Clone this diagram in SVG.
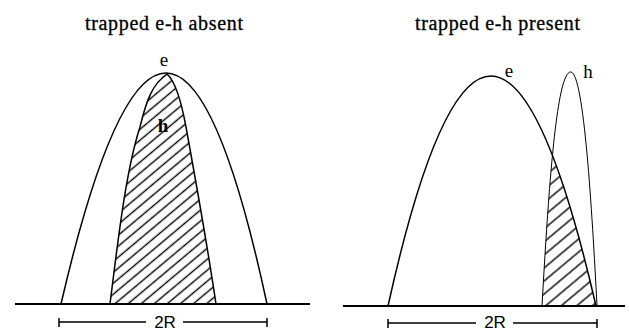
<svg xmlns="http://www.w3.org/2000/svg" width="629" height="331" viewBox="0 0 629 331">
<style>
.title{font-family:"Liberation Serif","Times New Roman",serif;font-size:20px;fill:#000;stroke:#000;stroke-width:0.3}
.lbl{font-family:"Liberation Serif","Times New Roman",serif;font-size:19px;fill:#000}
.dim{font-family:"Liberation Sans",Arial,sans-serif;font-size:17px;fill:#000}
.curve{fill:none;stroke:#000;stroke-width:1.5}
.thin{fill:none;stroke:#000;stroke-width:1}
.base{fill:none;stroke:#000;stroke-width:2}
.bar{fill:none;stroke:#000;stroke-width:1.5}
</style>
<defs>
<pattern id="hatchL" width="8.4" height="8.4" patternUnits="userSpaceOnUse" patternTransform="rotate(-40)">
<line x1="0" y1="4.2" x2="8.4" y2="4.2" stroke="#000" stroke-width="1.4"/>
</pattern>
<pattern id="hatchR" width="10" height="10" patternUnits="userSpaceOnUse" patternTransform="rotate(-40)">
<line x1="0" y1="5" x2="10" y2="5" stroke="#000" stroke-width="1.4"/>
</pattern>
<clipPath id="clipHL">
<path d="M110,304 C118,240 126,170 140,127 C146,102 152,84 167,74 C176,82 182,105 186,127 C192,160 208,250 216,304 Z"/>
</clipPath>
<clipPath id="clipER">
<path d="M388,306 Q490,-154 596,306 Z"/>
</clipPath>
<clipPath id="clipHR">
<path d="M542,306 C548,200 556,70 571,72 C584,74 592,210 597,306 Z"/>
</clipPath>
</defs>

<g id="left-panel">
<text class="title" x="164" y="30" text-anchor="middle" textLength="158" lengthAdjust="spacing">trapped e-h absent</text>
<g id="left-h">
<rect x="100" y="60" width="130" height="250" fill="url(#hatchL)" clip-path="url(#clipHL)"/>
<path class="curve" d="M110,304 C118,240 126,170 140,127 C146,102 152,84 167,74 C176,82 182,105 186,127 C192,160 208,250 216,304"/>
</g>
<g id="left-e">
<path class="curve" d="M61,304 Q168,-158 267,304"/>
</g>
<text class="lbl" x="164" y="66" text-anchor="middle">e</text>
<text class="lbl" x="163" y="132" text-anchor="middle" font-weight="bold">h</text>
<path class="base" d="M15,304 H310"/>
<g id="left-dim">
<path class="bar" d="M59,322 H146 M183,322 H267 M59,318 V327 M267,318 V327"/>
<text class="dim" x="165" y="328" text-anchor="middle">2R</text>
</g>
</g>

<g id="right-panel">
<text class="title" x="497.5" y="30" text-anchor="middle" textLength="165" lengthAdjust="spacing">trapped e-h present</text>
<g clip-path="url(#clipHR)">
<rect x="530" y="60" width="80" height="250" fill="url(#hatchR)" clip-path="url(#clipER)"/>
</g>
<g id="right-e">
<path class="curve" d="M388,306 Q490,-154 596,306"/>
</g>
<g id="right-h">
<path class="thin" d="M542,306 C548,200 556,70 571,72 C584,74 592,210 597,306"/>
</g>
<text class="lbl" x="509" y="77" text-anchor="middle">e</text>
<text class="lbl" x="588" y="78" text-anchor="middle">h</text>
<path class="base" d="M343,306 H625"/>
<g id="right-dim">
<path class="bar" d="M388,323 H476 M513,323 H597 M388,319 V328 M597,319 V328"/>
<text class="dim" x="495" y="328" text-anchor="middle">2R</text>
</g>
</g>
</svg>
